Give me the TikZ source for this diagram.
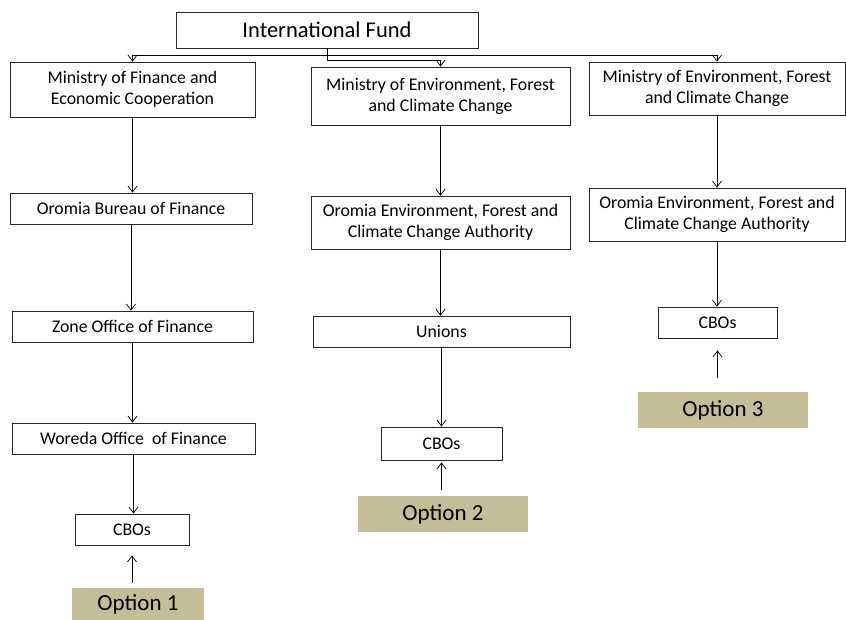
\documentclass[tikz,border=0pt]{standalone}
\usepackage{fontspec}
\setmainfont{Carlito}
\usetikzlibrary{arrows.meta}

\definecolor{optiontan}{RGB}{196,189,151}

\tikzset{
  box/.style={draw=black!85, line width=0.8pt, align=center, inner sep=1pt,
    font=\fontsize{17.8pt}{21pt}\selectfont},
  optionbox/.style={fill=optiontan, draw=none, inner sep=1pt,
    font=\fontsize{23pt}{26pt}\selectfont},
  flow/.style={-{Straight Barb[length=6pt,width=9pt]}, line width=0.7pt}
}

\begin{document}
\begin{tikzpicture}[x=1pt,y=1pt,yscale=-1]
  \useasboundingbox (0,0) rectangle (846,620);

  % top box
  \node[box, minimum width=302pt, minimum height=36pt, font=\fontsize{22.5pt}{26pt}\selectfont] (fund) at (327,30) {International Fund};

  % option 1 column
  \node[box, minimum width=245pt, minimum height=55pt] (mofec) at (132.5,89.5) {Ministry of Finance and\\Economic Cooperation};
  \node[box, minimum width=242pt, minimum height=31pt] (obof) at (131,208.5) {Oromia Bureau of Finance};
  \node[box, minimum width=241pt, minimum height=31pt] (zoof) at (132.5,326.5) {Zone Office of Finance};
  \node[box, minimum width=243pt, minimum height=31pt] (woof) at (133.5,438.5) {Woreda Office \ of Finance};
  \node[box, minimum width=114pt, minimum height=31pt] (cbos1) at (132,529.5) {CBOs};
  \node[optionbox, minimum width=132pt, minimum height=32pt] (opt1) at (138,604) {Option 1};

  % option 2 column
  \node[box, minimum width=259pt, minimum height=58pt] (moefcc2) at (440.5,96) {Ministry of Environment, Forest\\and Climate Change};
  \node[box, minimum width=259pt, minimum height=53pt] (oefcca2) at (440.5,222.5) {Oromia Environment, Forest and\\Climate Change Authority};
  \node[box, minimum width=257pt, minimum height=31pt] (unions) at (441.5,331.5) {Unions};
  \node[box, minimum width=121pt, minimum height=33pt] (cbos2) at (441.5,443.5) {CBOs};
  \node[optionbox, minimum width=170pt, minimum height=36pt] (opt2) at (443,514) {Option 2};

  % option 3 column
  \node[box, minimum width=256pt, minimum height=53pt] (moefcc3) at (717,88.5) {Ministry of Environment, Forest\\and Climate Change};
  \node[box, minimum width=256pt, minimum height=53pt] (oefcca3) at (717,214.5) {Oromia Environment, Forest and\\Climate Change Authority};
  \node[box, minimum width=119pt, minimum height=31pt] (cbos3) at (717.5,322.5) {CBOs};
  \node[optionbox, minimum width=170pt, minimum height=36pt] (opt3) at (723,410) {Option 3};

  % split below the fund
  \coordinate (split) at (327,55);
  \draw[line width=0.7pt] (fund.south) -- (split);
  \draw[flow] (split) -| (mofec.north);
  \draw[flow] (split) -| (moefcc3.north);
  \draw[flow] (split) -- ++(0,5) -| (moefcc2.north);

  % columns
  \draw[flow] (mofec.south) -- (mofec.south |- obof.north);
  \draw[flow] (obof.south) -- (obof.south |- zoof.north);
  \draw[flow] (zoof.south) -- (zoof.south |- woof.north);
  \draw[flow] (woof.south) -- (woof.south |- cbos1.north);
  \draw[flow] (moefcc2.south) -- (moefcc2.south |- oefcca2.north);
  \draw[flow] (oefcca2.south) -- (oefcca2.south |- unions.north);
  \draw[flow] (unions.south) -- (unions.south |- cbos2.north);
  \draw[flow] (moefcc3.south) -- (moefcc3.south |- oefcca3.north);
  \draw[flow] (oefcca3.south) -- (oefcca3.south |- cbos3.north);

  % options point up
  \draw[flow, shorten <=5pt, shorten >=10pt] (cbos1.south |- opt1.north) -- (cbos1.south);
  \draw[flow, shorten <=6pt, shorten >=2pt] (cbos2.south |- opt2.north) -- (cbos2.south);
  \draw[flow, shorten <=14pt, shorten >=12pt] (cbos3.south |- opt3.north) -- (cbos3.south);
\end{tikzpicture}
\end{document}
